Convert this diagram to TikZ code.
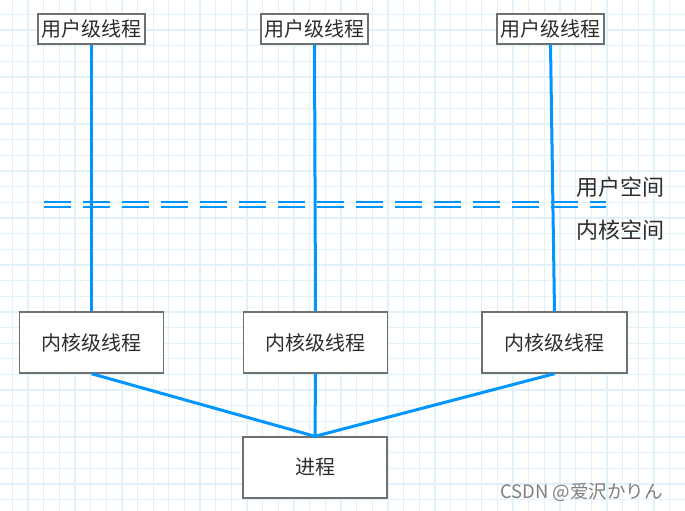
\documentclass[tikz,border=0pt]{standalone}
\usepackage{fontspec}
\setmainfont{Noto Sans CJK SC}
\newfontfamily\jpfont{Noto Sans CJK JP}
\definecolor{linkblue}{RGB}{0,149,255}
\definecolor{gridblue}{RGB}{224,241,250}
\definecolor{boxgray}{RGB}{112,112,112}
\definecolor{textgray}{RGB}{45,45,45}

\begin{document}
\begin{tikzpicture}[
    x=1pt, y=-1pt,
    gridline/.style={gridblue, line width=1.3pt},
    box/.style={draw=boxgray, line width=1.4pt, fill=white, inner sep=0pt,
        text=textgray, font=\fontsize{20}{20}\selectfont},
    userbox/.style={box, minimum width=107pt, minimum height=30pt},
    kernbox/.style={box, minimum width=144pt, minimum height=61pt},
    link/.style={linkblue, line width=3pt},
    sepline/.style={linkblue, line width=1.6pt, dash pattern=on 27pt off 12pt},
    spacelabel/.style={text=textgray, inner sep=0pt, anchor=west,
        font=\fontsize{22}{22}\selectfont}
    ]

    \useasboundingbox[fill=white] (0,0) rectangle (685,511);

    % background grid
    \foreach \i in {0,...,43}
        \draw[gridline] (12.3+15.65*\i,0) -- ++(0,511);
    \foreach \j in {0,...,32}
        \draw[gridline] (0,14.5+15.65*\j) -- ++(685,0);

    % user / kernel separator
    \draw[sepline] (44,201.7) -- (606,201.7);
    \draw[sepline] (44,206.7) -- (606,206.7);

    \node[userbox] (u1) at (91.5,29) {用户级线程};
    \node[userbox] (u2) at (314.5,29) {用户级线程};
    \node[userbox] (u3) at (550.5,29) {用户级线程};

    \node[kernbox] (k1) at (91.5,342.5) {内核级线程};
    \node[kernbox] (k2) at (315.5,342.5) {内核级线程};
    \node[kernbox, minimum width=145pt] (k3) at (554.5,342.5) {内核级线程};

    \node[kernbox] (p) at (315,467.5) {进程};

    \draw[link] (u1.south) -- (k1.north);
    \draw[link] (u2.south) -- (k2.north);
    \draw[link] (u3.south) -- (k3.north);

    \draw[link] (k1.south) -- (p.north);
    \draw[link] (k2.south) -- (p.north);
    \draw[link] (k3.south) -- (p.north);

    \node[spacelabel] (us) at (576,187) {用户空间};
    \node[spacelabel] (ks) at (576,230) {内核空间};

    \node[text=gray, inner sep=0pt, anchor=west, font=\jpfont\fontsize{18.5}{18.5}\selectfont]
        (mark) at (500,492) {CSDN @爱沢かりん};

\end{tikzpicture}
\end{document}
